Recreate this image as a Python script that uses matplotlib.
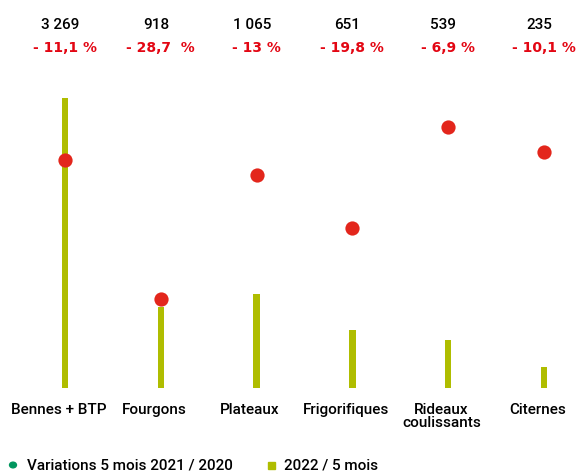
import matplotlib.pyplot as plt
import matplotlib.transforms as mtransforms

plt.rcParams['font.family'] = ['Roboto', 'DejaVu Sans']

categories = ['Bennes + BTP', 'Fourgons', 'Plateaux', 'Frigorifiques', 'Rideaux\ncoulissants', 'Citernes']
immat_2022 = [3269, 918, 1065, 651, 539, 235]
variation = [-11.1, -28.7, -13.0, -19.8, -6.9, -10.1]
immat_labels = ['3 269', '918', '1 065', '651', '539', '235']
variation_labels = ['- 11,1 %', '- 28,7  %', '- 13 %', '- 19,8 %', '- 6,9 %', '- 10,1 %']

olive = '#AFBD00'
red = '#E3261C'
green = '#00965E'
fs = 11

fig = plt.figure(figsize=(5.77, 4.74), dpi=100)
ax = fig.add_axes([0, 1 - 388 / 474, 1, (388 - 72) / 474])
ax2 = ax.twinx()

x = list(range(len(categories)))
ax.bar(x, immat_2022, width=0.065, color=olive, zorder=1)
ax2.scatter(x, variation, s=105, color=red, zorder=3, linewidths=0)

ax.set_xlim(-0.678, 5.344)
ax.set_ylim(0, 3562)
ax2.set_ylim(-40, 0)
for a in (ax, ax2):
    a.axis('off')

trans = mtransforms.blended_transform_factory(ax.transData, fig.transFigure)
for i in x:
    ax.text(i - 0.05, 1 - 25 / 474, immat_labels[i], transform=trans,
            ha='center', va='center', fontsize=fs, color='black', fontweight='medium')
    ax.text(i, 1 - 48 / 474, variation_labels[i], transform=trans,
            ha='center', va='center', fontsize=10, color='#E30613', fontweight='bold',
            family='DejaVu Sans')
    ax.text(i - 0.07, 1 - 403 / 474, categories[i], transform=trans,
            ha='center', va='top', fontsize=fs, color='black', linespacing=0.95,
            fontweight='medium')

# légende
fig.patches.append(plt.Circle((13 / 577, 1 - 465 / 474), 0.006, color=green,
                              transform=fig.transFigure, figure=fig))
fig.text(27 / 577, 1 - 465 / 474, 'Variations 5 mois 2021 / 2020', fontsize=fs,
         va='center', ha='left', fontweight='medium')
fig.patches.append(plt.Rectangle((268 / 577, 1 - 469 / 474), 7 / 577, 7 / 474,
                                 color=olive, transform=fig.transFigure, figure=fig))
fig.text(284 / 577, 1 - 465 / 474, '2022 / 5 mois', fontsize=fs, va='center', ha='left',
         fontweight='medium')

fig.savefig('out.png', dpi=100)
